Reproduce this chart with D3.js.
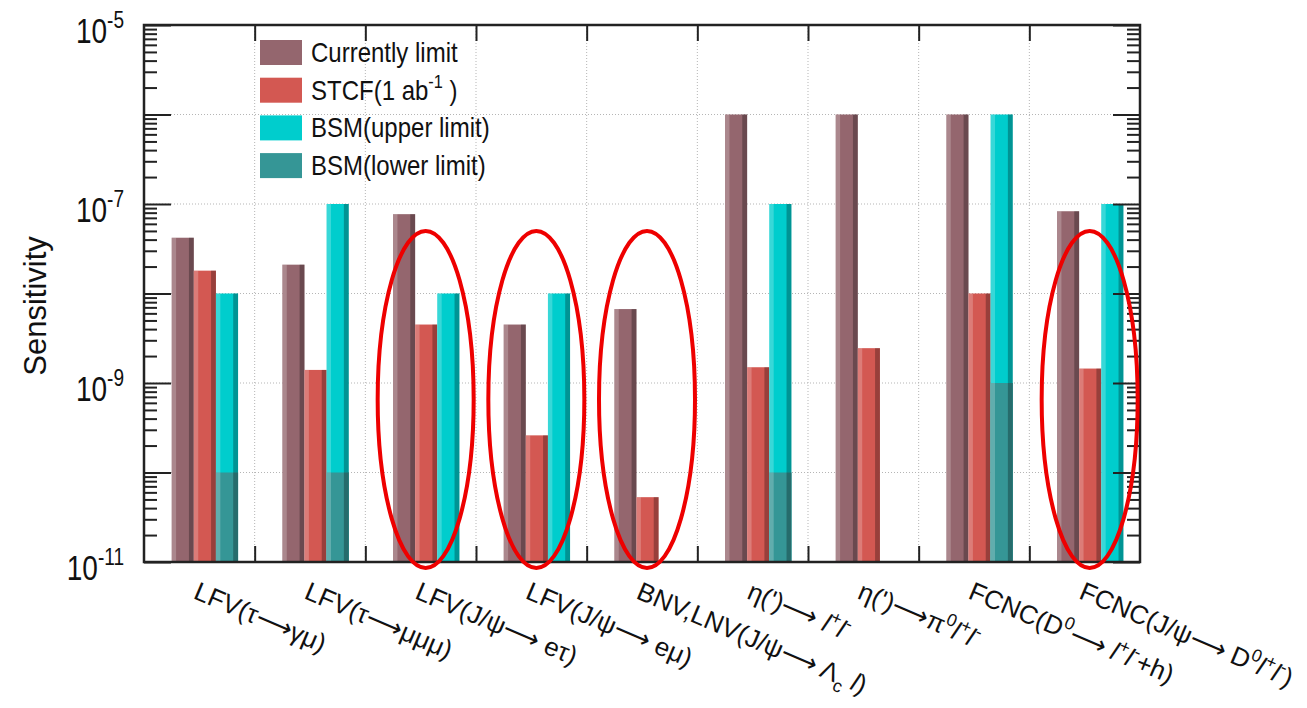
<!DOCTYPE html>
<html>
<head>
<meta charset="utf-8">
<script src="https://cdn.jsdelivr.net/npm/d3@7"></script>
<style>
  body { margin: 0; background: #fff; }
  text { font-family: "Liberation Sans", Arial, sans-serif; fill: #111; }
</style>
</head>
<body>
<div id="chart"></div>
<script>
// Categories (^{} = superscript, _{} = subscript, $..$ = italic)
const categories = [
  "LFV(τ⟶γμ)",
  "LFV(τ⟶μμμ)",
  "LFV(J/ψ⟶ eτ)",
  "LFV(J/ψ⟶ eμ)",
  "BNV,LNV(J/ψ⟶ Λ_{c} $l$)",
  "η(')⟶ $l$^{+}$l$^{-}",
  "η(')⟶π^{0}$l$^{+}$l$^{-}",
  "FCNC(D^{0}⟶ $l$^{+}$l$^{-}+h)",
  "FCNC(J/ψ⟶ D^{0}$l$^{+}$l$^{-})"
];

// Series values
const currentLimit = [4.2e-8, 2.1e-8, 7.7e-8, 4.5e-9, 6.7e-9, 1e-6, 1e-6, 1e-6, 8.3e-8];
const stcf         = [1.8e-8, 1.4e-9, 4.5e-9, 2.6e-10, 5.3e-11, 1.5e-9, 2.45e-9, 1e-8, 1.45e-9];
const bsmUpper     = [1e-8, 1e-7, 1e-8, 1e-8, null, 1e-7, null, 1e-6, 1e-7];
const bsmLower     = [1e-10, 1e-10, null, null, null, 1e-10, null, 1e-9, null];

// Y tick decades
const yTickExps = [-5, -7, -9, -11];

// Legend entries
const legendLabels = ["Currently limit", "STCF(1 ab^{-1} )", "BSM(upper limit)", "BSM(lower limit)"];

// Groups marked with a red ellipse
const circled = [2, 3, 4, 8];

const colors = {
  cur: "#94666e",
  stcf: "#d35852",
  up: "#00cdcd",
  low: "#359696"
};

const W = 1307, H = 708;
const pLeft = 144, pRight = 1140, pTop = 25, pBottom = 562;

const svg = d3.select("#chart").append("svg")
  .attr("width", W).attr("height", H);

const x = d3.scaleBand().domain(d3.range(categories.length))
  .range([pLeft, pRight]).padding(0);
const bw = x.bandwidth();
const xi = d3.scaleLinear().domain([0, categories.length]).range([pLeft, pRight]);
const sub = d3.scaleBand().domain(["cur", "stcf", "bsm"])
  .range([0.25 * bw, 0.85 * bw]).padding(0);
const y = d3.scaleLog().domain([1e-11, 1e-5]).range([pBottom, pTop]);

// rich text helper
function rich(sel, str, size) {
  const parts = str.split(/(\^\{[^}]*\}|_\{[^}]*\}|\$[^$]*\$)/).filter(s => s.length);
  let shift = 0;
  parts.forEach(p => {
    let txt = p, fs = size, target = 0, italic = false;
    if (p.startsWith("^{")) { txt = p.slice(2, -1); fs = size * 0.68; target = -size * 0.42; }
    else if (p.startsWith("_{")) { txt = p.slice(2, -1); fs = size * 0.68; target = size * 0.3; }
    else if (p.startsWith("$")) { txt = p.slice(1, -1); italic = true; }
    const t = sel.append("tspan")
      .attr("font-size", fs)
      .attr("dy", target - shift)
      .text(txt);
    if (italic) t.attr("font-style", "italic");
    shift = target;
  });
}

// grid
const grid = svg.append("g").attr("stroke", "#b5b5b5").attr("stroke-dasharray", "1,2").attr("stroke-width", 1);
d3.range(-10, -5).forEach(e => {
  grid.append("line").attr("x1", pLeft).attr("x2", pRight)
    .attr("y1", y(Math.pow(10, e))).attr("y2", y(Math.pow(10, e)));
});
d3.range(1, categories.length).forEach(i => {
  grid.append("line").attr("x1", xi(i)).attr("x2", xi(i))
    .attr("y1", pTop).attr("y2", pBottom);
});

// bars with ROOT-like shading
function bar(g, i, key, v, color) {
  if (v == null) return;
  const x0 = x(i) + sub(key), w = sub.bandwidth();
  const y0 = y(v), h = pBottom - y0;
  g.append("rect").attr("x", x0).attr("y", y0).attr("width", w).attr("height", h).attr("fill", color);
  g.append("rect").attr("x", x0).attr("y", y0).attr("width", w * 0.2).attr("height", h)
    .attr("fill", "#fff").attr("opacity", 0.22);
  g.append("rect").attr("x", x0 + w * 0.78).attr("y", y0).attr("width", w * 0.22).attr("height", h)
    .attr("fill", "#000").attr("opacity", 0.28);
}
const bars = svg.append("g");
categories.forEach((c, i) => {
  bar(bars, i, "cur", currentLimit[i], colors.cur);
  bar(bars, i, "stcf", stcf[i], colors.stcf);
  bar(bars, i, "bsm", bsmUpper[i], colors.up);
  bar(bars, i, "bsm", bsmLower[i], colors.low);
});

// axes ticks
const minor = [];
d3.range(-11, -5).forEach(e => d3.range(2, 10).forEach(m => minor.push(m * Math.pow(10, e))));
const majors = d3.range(-11, -4).map(e => Math.pow(10, e));

function yTicks(axisFn, xpos, vals, size) {
  svg.append("g").attr("transform", `translate(${xpos},0)`)
    .call(axisFn(y).tickValues(vals).tickSize(size).tickFormat(""))
    .call(g => g.select(".domain").remove())
    .call(g => g.selectAll("line").attr("stroke", "#222").attr("stroke-width", 2));
}
yTicks(d3.axisRight, pLeft, majors, 27);
yTicks(d3.axisRight, pLeft, minor, 13);
yTicks(d3.axisLeft, pRight, majors, 27);
yTicks(d3.axisLeft, pRight, minor, 13);

svg.append("g").attr("transform", `translate(0,${pBottom})`)
  .call(d3.axisTop(xi).tickValues(d3.range(1, categories.length)).tickSize(16).tickFormat(""))
  .call(g => g.select(".domain").remove())
  .call(g => g.selectAll("line").attr("stroke", "#222").attr("stroke-width", 2));
svg.append("g").attr("transform", `translate(0,${pTop})`)
  .call(d3.axisBottom(xi).tickValues(d3.range(1, categories.length)).tickSize(16).tickFormat(""))
  .call(g => g.select(".domain").remove())
  .call(g => g.selectAll("line").attr("stroke", "#222").attr("stroke-width", 2));

// frame
svg.append("rect").attr("x", pLeft).attr("y", pTop).attr("width", pRight - pLeft).attr("height", pBottom - pTop)
  .attr("fill", "none").attr("stroke", "#222").attr("stroke-width", 2.5);

// y tick labels (text in the original looks vertically stretched)
yTickExps.forEach(e => {
  const t = svg.append("text")
    .attr("transform", `translate(124,${y(Math.pow(10, e)) + 18}) scale(1,1.25)`)
    .attr("text-anchor", "end").attr("font-size", 28);
  rich(t, `10^{${e}}`, 28);
});

// y title
svg.append("text")
  .attr("transform", `translate(46,306) rotate(-90)`)
  .attr("text-anchor", "middle").attr("font-size", 31)
  .text("Sensitivity");

// x labels
categories.forEach((c, i) => {
  const cx = x(i) + bw / 2 - 7;
  const t = svg.append("text")
    .attr("transform", `translate(${cx},598) rotate(23)`)
    .attr("font-size", 26);
  rich(t, c, 26);
});

// legend
const leg = svg.append("g").attr("transform", "translate(260,40)");
const legColors = [colors.cur, colors.stcf, colors.up, colors.low];
legendLabels.forEach((l, i) => {
  const g = leg.append("g").attr("transform", `translate(0,${i * 37.7})`);
  g.append("rect").attr("width", 42).attr("height", 25).attr("fill", legColors[i]);
  const t = g.append("text").attr("transform", "translate(51,22) scale(1,1.15)").attr("font-size", 24);
  rich(t, l, 24);
});

// red ellipses
const eTop = y(5e-8), eBot = pBottom + 6;
circled.forEach(i => {
  svg.append("ellipse")
    .attr("cx", x(i) + bw / 2 + 5).attr("cy", (eTop + eBot) / 2)
    .attr("rx", 48).attr("ry", (eBot - eTop) / 2)
    .attr("fill", "none").attr("stroke", "#ee0000").attr("stroke-width", 4);
});
</script>
</body>
</html>
